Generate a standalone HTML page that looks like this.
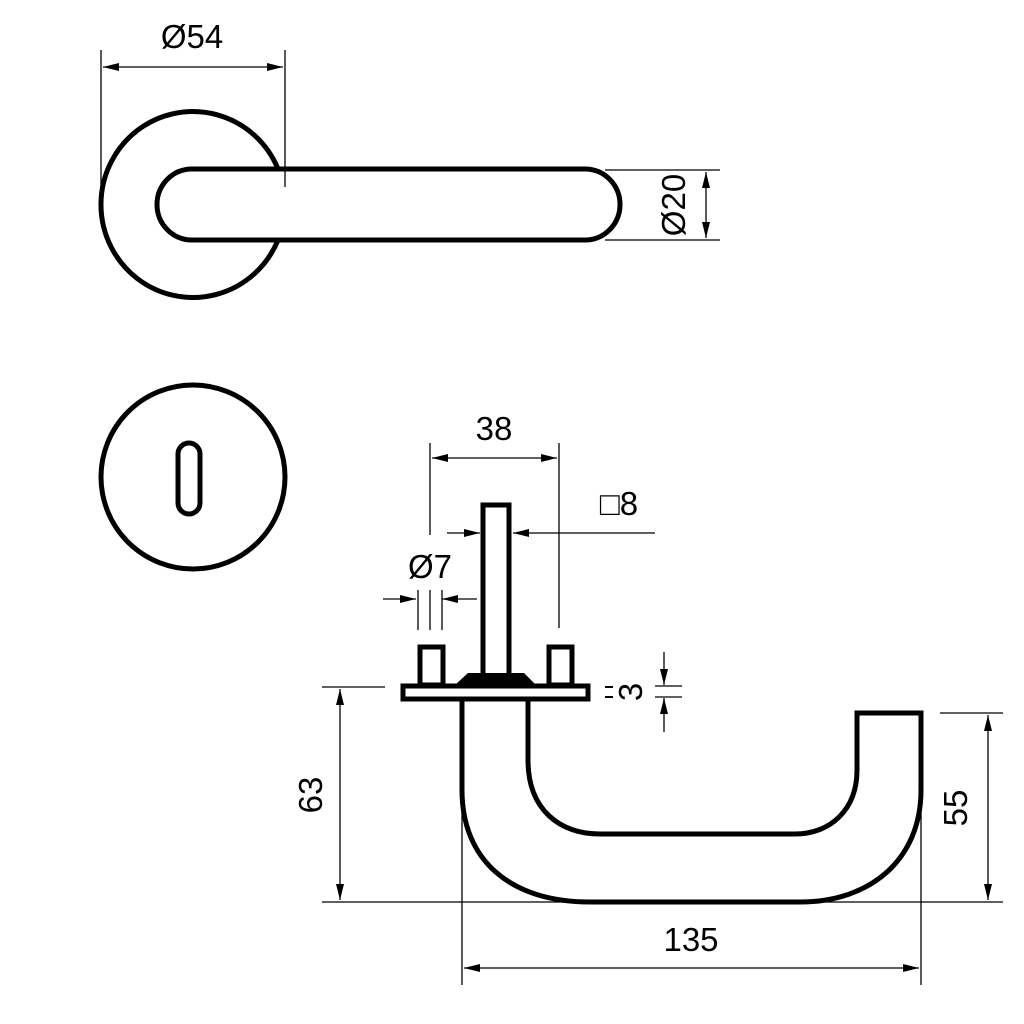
<!DOCTYPE html>
<html><head><style>
html,body{margin:0;padding:0;background:#fff;}
svg{display:block;}
text{font-family:"Liberation Sans",sans-serif;font-size:33px;fill:#000;}
</style></head><body>
<svg width="1024" height="1024" viewBox="0 0 1024 1024" xmlns="http://www.w3.org/2000/svg">
<defs>
<marker id="a" viewBox="0 0 16 8" refX="16" refY="4" markerWidth="16" markerHeight="8" markerUnits="userSpaceOnUse" orient="auto"><path d="M0,0 L16,4 L0,8 z" fill="#000"/></marker>
</defs>
<g fill="none" stroke="#000">
<path d="M278,169 A92,93 0 1 0 278,240" stroke-width="5"/>
<path d="M192,169 L585,169 A35,35.5 0 0 1 585,240 L192,240 A35,35.5 0 0 1 192,169 Z" stroke-width="5" fill="#fff"/>
<g stroke-width="1.3">
<line x1="101" y1="50" x2="101" y2="190"/>
<line x1="285" y1="50" x2="285" y2="187"/>
<line x1="192" y1="67" x2="103" y2="67" marker-end="url(#a)"/>
<line x1="192" y1="67" x2="283" y2="67" marker-end="url(#a)"/>
<line x1="605" y1="170" x2="720" y2="170"/>
<line x1="605" y1="240" x2="720" y2="240"/>
<line x1="706" y1="205" x2="706" y2="172" marker-end="url(#a)"/>
<line x1="706" y1="205" x2="706" y2="238" marker-end="url(#a)"/>
</g>
<circle cx="193" cy="477" r="92" stroke-width="5"/>
<rect x="178" y="443" width="22" height="71" rx="11" stroke-width="5"/>
<g stroke-width="1.3">
<line x1="430" y1="443" x2="430" y2="535"/>
<line x1="559" y1="443" x2="559" y2="628"/>
<line x1="494" y1="458" x2="432" y2="458" marker-end="url(#a)"/>
<line x1="494" y1="458" x2="557" y2="458" marker-end="url(#a)"/>
<line x1="447" y1="533" x2="480" y2="533" marker-end="url(#a)"/>
<line x1="655" y1="533" x2="513" y2="533" marker-end="url(#a)"/>
<line x1="383" y1="599" x2="416" y2="599" marker-end="url(#a)"/>
<line x1="477" y1="599" x2="442" y2="599" marker-end="url(#a)"/>
<line x1="418" y1="590" x2="418" y2="630"/>
<line x1="430" y1="590" x2="430" y2="630"/>
<line x1="442" y1="590" x2="442" y2="630"/>
<line x1="664" y1="652" x2="664" y2="685" marker-end="url(#a)"/>
<line x1="664" y1="732" x2="664" y2="698" marker-end="url(#a)"/>
<line x1="655" y1="686" x2="682" y2="686"/>
<line x1="655" y1="697" x2="682" y2="697"/>
<line x1="605" y1="687" x2="613" y2="687" stroke-width="2"/>
<line x1="605" y1="697" x2="613" y2="697" stroke-width="2"/>
<line x1="322" y1="687" x2="385" y2="687"/>
<line x1="322" y1="902" x2="1003" y2="902"/>
<line x1="340" y1="795" x2="340" y2="689" marker-end="url(#a)"/>
<line x1="340" y1="795" x2="340" y2="900" marker-end="url(#a)"/>
<line x1="940" y1="713" x2="1003" y2="713"/>
<line x1="988" y1="808" x2="988" y2="715" marker-end="url(#a)"/>
<line x1="988" y1="808" x2="988" y2="900" marker-end="url(#a)"/>
<line x1="462" y1="700" x2="462" y2="985"/>
<line x1="921" y1="713" x2="921" y2="985"/>
<line x1="691" y1="968" x2="464" y2="968" marker-end="url(#a)"/>
<line x1="691" y1="968" x2="919" y2="968" marker-end="url(#a)"/>
</g>
<rect x="483" y="505" width="26" height="172" stroke-width="5"/>
<rect x="420" y="647" width="23" height="38" stroke-width="5"/>
<rect x="549" y="647" width="23" height="38" stroke-width="5"/>
<rect x="403" y="686" width="185" height="13" stroke-width="5" fill="#fff"/>
<path d="M455,685 L468,673 L524,673 L536,685 Z" fill="#000" stroke="none"/>
<path d="M462,700 L462,790 C462,860 510,902 590,902 L800,902 C870,902 921,860 921,790 L921,713 L857,713 L857,770 C857,810 830,834 795,834 L600,834 C560,834 528,810 528,760 L528,700" stroke-width="5"/>
</g>
<text x="192" y="48" text-anchor="middle">Ø54</text>
<text transform="translate(685,205) rotate(-90)" text-anchor="middle">Ø20</text>
<text x="494" y="440" text-anchor="middle">38</text>
<text x="619" y="515" text-anchor="middle">□8</text>
<text x="430" y="578" text-anchor="middle">Ø7</text>
<text transform="translate(642,692) rotate(-90)" text-anchor="middle">3</text>
<text transform="translate(322,795) rotate(-90)" text-anchor="middle">63</text>
<text transform="translate(967,808) rotate(-90)" text-anchor="middle">55</text>
<text x="691" y="951" text-anchor="middle">135</text>
</svg>
</body></html>
